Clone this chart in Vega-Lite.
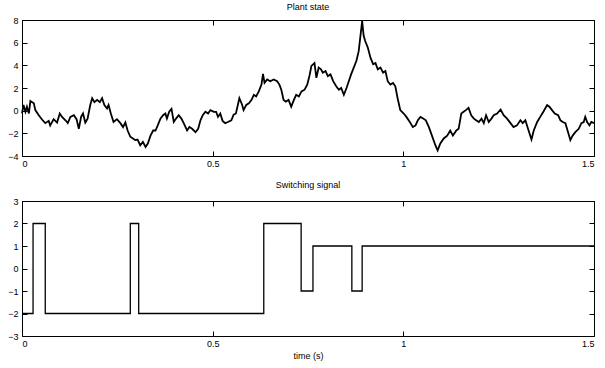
{
  "$schema": "https://vega.github.io/schema/vega-lite/v6.json",
  "background": "white",
  "padding": {"left": 7, "top": 2, "right": 8, "bottom": 5},
  "spacing": 45,
  "bounds": "flush",
  "config": {
    "view": {"stroke": "black", "strokeWidth": 1},
    "font": "Liberation Sans",
    "axis": {"grid": false, "domain": false, "tickColor": "black", "tickSize": -5, "labelColor": "black", "labelFontSize": 9, "titleFontSize": 9, "titleFontWeight": "normal", "titleColor": "black", "titlePadding": 3},
    "axisLeft": {"labelPadding": 9},
    "axisBottom": {"labelPadding": 8},
    "title": {"fontSize": 9, "fontWeight": "normal", "color": "black"}
  },
  "vconcat": [
    {
      "width": 572,
      "height": 136,
      "title": {"text": "Plant state", "offset": 4},
      "data": {"values": [
        {"t": 0, "v": -0.24}, {"t": 0.004, "v": 0.5}, {"t": 0.009, "v": -0.1}, {"t": 0.013, "v": 0.35}, {"t": 0.018, "v": -0.25},
        {"t": 0.022, "v": 0.85}, {"t": 0.031, "v": 0.65}, {"t": 0.035, "v": 0.05}, {"t": 0.044, "v": -0.4}, {"t": 0.053, "v": -0.8},
        {"t": 0.061, "v": -1.1}, {"t": 0.07, "v": -0.9}, {"t": 0.074, "v": -1.3}, {"t": 0.083, "v": -0.75}, {"t": 0.092, "v": -1.05},
        {"t": 0.099, "v": -0.25}, {"t": 0.105, "v": -0.55}, {"t": 0.114, "v": -0.85}, {"t": 0.12, "v": -1.1}, {"t": 0.127, "v": -0.55},
        {"t": 0.136, "v": -0.4}, {"t": 0.143, "v": -0.75}, {"t": 0.149, "v": -1.6}, {"t": 0.155, "v": -0.55}, {"t": 0.16, "v": -0.25},
        {"t": 0.166, "v": -1.05}, {"t": 0.172, "v": -0.7}, {"t": 0.179, "v": 0.5}, {"t": 0.184, "v": 1.1}, {"t": 0.19, "v": 0.75},
        {"t": 0.197, "v": 0.95}, {"t": 0.204, "v": 0.75}, {"t": 0.21, "v": 1.1}, {"t": 0.216, "v": 0.5}, {"t": 0.223, "v": 0.2},
        {"t": 0.227, "v": 0.5}, {"t": 0.233, "v": -0.25}, {"t": 0.24, "v": -1.0}, {"t": 0.249, "v": -0.75}, {"t": 0.258, "v": -1.1},
        {"t": 0.265, "v": -1.45}, {"t": 0.271, "v": -1.05}, {"t": 0.277, "v": -1.75}, {"t": 0.284, "v": -2.3}, {"t": 0.291, "v": -2.45},
        {"t": 0.297, "v": -2.6}, {"t": 0.303, "v": -2.55}, {"t": 0.31, "v": -3.05}, {"t": 0.317, "v": -2.75}, {"t": 0.324, "v": -3.2},
        {"t": 0.33, "v": -2.9}, {"t": 0.337, "v": -2.2}, {"t": 0.344, "v": -1.75}, {"t": 0.35, "v": -1.75}, {"t": 0.356, "v": -1.3},
        {"t": 0.363, "v": -0.7}, {"t": 0.37, "v": -0.4}, {"t": 0.376, "v": -0.25}, {"t": 0.38, "v": -0.7}, {"t": 0.386, "v": -0.1},
        {"t": 0.392, "v": 0.15}, {"t": 0.398, "v": -1.0}, {"t": 0.404, "v": -0.7}, {"t": 0.411, "v": -0.4}, {"t": 0.418, "v": -0.7},
        {"t": 0.424, "v": -1.1}, {"t": 0.433, "v": -1.75}, {"t": 0.439, "v": -1.45}, {"t": 0.446, "v": -1.6}, {"t": 0.455, "v": -1.9},
        {"t": 0.462, "v": -1.6}, {"t": 0.468, "v": -0.85}, {"t": 0.474, "v": -0.4}, {"t": 0.481, "v": -0.1}, {"t": 0.488, "v": -0.25},
        {"t": 0.494, "v": 0.05}, {"t": 0.503, "v": -0.1}, {"t": 0.509, "v": -0.1}, {"t": 0.514, "v": -0.55}, {"t": 0.52, "v": -0.25},
        {"t": 0.526, "v": -0.9}, {"t": 0.533, "v": -1.1}, {"t": 0.54, "v": -1.0}, {"t": 0.549, "v": -0.85}, {"t": 0.555, "v": -0.35},
        {"t": 0.561, "v": -0.25}, {"t": 0.57, "v": 1.1}, {"t": 0.577, "v": 0.55}, {"t": 0.581, "v": 0.05}, {"t": 0.588, "v": 0.5},
        {"t": 0.595, "v": 0.65}, {"t": 0.602, "v": 0.95}, {"t": 0.608, "v": 1.4}, {"t": 0.614, "v": 1.25}, {"t": 0.621, "v": 1.7},
        {"t": 0.628, "v": 2.3}, {"t": 0.632, "v": 3.25}, {"t": 0.636, "v": 2.45}, {"t": 0.643, "v": 2.75}, {"t": 0.651, "v": 2.6},
        {"t": 0.66, "v": 2.75}, {"t": 0.669, "v": 2.6}, {"t": 0.675, "v": 2.3}, {"t": 0.68, "v": 1.85}, {"t": 0.686, "v": 0.95},
        {"t": 0.692, "v": 0.8}, {"t": 0.699, "v": 0.95}, {"t": 0.706, "v": 0.35}, {"t": 0.713, "v": 0.95}, {"t": 0.719, "v": 1.4},
        {"t": 0.726, "v": 1.25}, {"t": 0.733, "v": 1.7}, {"t": 0.741, "v": 1.85}, {"t": 0.748, "v": 2.3}, {"t": 0.754, "v": 3.1},
        {"t": 0.759, "v": 3.95}, {"t": 0.767, "v": 4.2}, {"t": 0.772, "v": 2.9}, {"t": 0.778, "v": 3.8}, {"t": 0.784, "v": 3.65},
        {"t": 0.789, "v": 3.35}, {"t": 0.796, "v": 3.5}, {"t": 0.802, "v": 3.05}, {"t": 0.809, "v": 3.2}, {"t": 0.816, "v": 2.6},
        {"t": 0.824, "v": 2.15}, {"t": 0.831, "v": 1.85}, {"t": 0.837, "v": 2.0}, {"t": 0.844, "v": 1.4}, {"t": 0.851, "v": 2.0},
        {"t": 0.857, "v": 2.6}, {"t": 0.863, "v": 3.2}, {"t": 0.87, "v": 3.8}, {"t": 0.877, "v": 4.4}, {"t": 0.883, "v": 5.25},
        {"t": 0.887, "v": 6.45}, {"t": 0.892, "v": 7.9}, {"t": 0.896, "v": 6.6}, {"t": 0.9, "v": 6.15}, {"t": 0.907, "v": 5.55},
        {"t": 0.914, "v": 4.65}, {"t": 0.921, "v": 4.1}, {"t": 0.927, "v": 4.2}, {"t": 0.933, "v": 3.65}, {"t": 0.94, "v": 3.8},
        {"t": 0.947, "v": 3.35}, {"t": 0.953, "v": 3.5}, {"t": 0.959, "v": 2.6}, {"t": 0.966, "v": 2.3}, {"t": 0.973, "v": 2.45},
        {"t": 0.979, "v": 2.15}, {"t": 0.985, "v": 1.1}, {"t": 0.992, "v": 0.05}, {"t": 1.001, "v": -0.25}, {"t": 1.008, "v": -0.55},
        {"t": 1.017, "v": -1.0}, {"t": 1.025, "v": -1.45}, {"t": 1.032, "v": -1.3}, {"t": 1.038, "v": -0.85}, {"t": 1.045, "v": -0.55},
        {"t": 1.052, "v": -0.7}, {"t": 1.059, "v": -0.85}, {"t": 1.067, "v": -1.45}, {"t": 1.075, "v": -2.2}, {"t": 1.084, "v": -3.05},
        {"t": 1.09, "v": -3.5}, {"t": 1.097, "v": -2.9}, {"t": 1.106, "v": -2.45}, {"t": 1.115, "v": -2.2}, {"t": 1.123, "v": -1.75},
        {"t": 1.13, "v": -2.2}, {"t": 1.139, "v": -1.75}, {"t": 1.145, "v": -1.6}, {"t": 1.152, "v": -0.25}, {"t": 1.158, "v": -0.1},
        {"t": 1.164, "v": 0.05}, {"t": 1.171, "v": 0.25}, {"t": 1.178, "v": -0.4}, {"t": 1.185, "v": -0.7}, {"t": 1.191, "v": -0.85},
        {"t": 1.198, "v": -1.0}, {"t": 1.205, "v": -0.7}, {"t": 1.211, "v": -1.1}, {"t": 1.217, "v": -0.4}, {"t": 1.224, "v": -1.0},
        {"t": 1.231, "v": -0.7}, {"t": 1.237, "v": -0.4}, {"t": 1.246, "v": -0.25}, {"t": 1.255, "v": 0.1}, {"t": 1.263, "v": -0.4},
        {"t": 1.272, "v": -0.7}, {"t": 1.281, "v": -1.1}, {"t": 1.289, "v": -1.45}, {"t": 1.298, "v": -1.3}, {"t": 1.307, "v": -0.85},
        {"t": 1.313, "v": -1.1}, {"t": 1.32, "v": -0.85}, {"t": 1.327, "v": -1.6}, {"t": 1.336, "v": -2.55}, {"t": 1.342, "v": -1.75},
        {"t": 1.351, "v": -1.0}, {"t": 1.359, "v": -0.55}, {"t": 1.368, "v": -0.05}, {"t": 1.377, "v": 0.5}, {"t": 1.383, "v": 0.35},
        {"t": 1.39, "v": 0.05}, {"t": 1.397, "v": -0.25}, {"t": 1.406, "v": -0.4}, {"t": 1.412, "v": -0.85}, {"t": 1.418, "v": -1.0},
        {"t": 1.425, "v": -1.1}, {"t": 1.432, "v": -1.9}, {"t": 1.438, "v": -2.6}, {"t": 1.444, "v": -2.2}, {"t": 1.451, "v": -1.9},
        {"t": 1.46, "v": -1.6}, {"t": 1.467, "v": -1.1}, {"t": 1.473, "v": -1.0}, {"t": 1.477, "v": -0.55}, {"t": 1.482, "v": -1.0},
        {"t": 1.488, "v": -1.3}, {"t": 1.493, "v": -1.0}, {"t": 1.5, "v": -1.1}
      ]},
      "layer": [
        {
          "mark": {"type": "line", "color": "black", "strokeWidth": 1.8},
          "encoding": {
            "x": {"field": "t", "type": "quantitative", "scale": {"domain": [0, 1.5]}, "axis": {"values": [0, 0.5, 1, 1.5], "labelExpr": "'' + datum.value", "title": null}},
            "y": {"field": "v", "type": "quantitative", "scale": {"domain": [-4, 8]}, "axis": {"values": [-4, -2, 0, 2, 4, 6, 8], "format": "d", "title": null}}
          }
        },
        {
          "mark": {"type": "line", "strokeOpacity": 0},
          "encoding": {
            "x": {"field": "t", "type": "quantitative", "scale": {"domain": [0, 1.5]}, "axis": {"orient": "top", "values": [0, 0.5, 1, 1.5], "labels": false, "title": null}},
            "y": {"field": "v", "type": "quantitative", "scale": {"domain": [-4, 8]}, "axis": {"orient": "right", "values": [-4, -2, 0, 2, 4, 6, 8], "labels": false, "title": null}}
          }
        }
      ],
      "resolve": {"axis": {"x": "independent", "y": "independent"}}
    },
    {
      "width": 572,
      "height": 135,
      "title": {"text": "Switching signal", "offset": 7},
      "data": {"values": [
        {"t": 0, "s": -2}, {"t": 0.029, "s": 2}, {"t": 0.061, "s": -2}, {"t": 0.284, "s": 2}, {"t": 0.306, "s": -2},
        {"t": 0.634, "s": 2}, {"t": 0.732, "s": -1}, {"t": 0.763, "s": 1}, {"t": 0.865, "s": -1}, {"t": 0.892, "s": 1},
        {"t": 1.5, "s": 1}
      ]},
      "layer": [
        {
          "mark": {"type": "line", "color": "black", "strokeWidth": 1.3, "interpolate": "step-after"},
          "encoding": {
            "x": {"field": "t", "type": "quantitative", "scale": {"domain": [0, 1.5]}, "axis": {"values": [0, 0.5, 1, 1.5], "labelExpr": "'' + datum.value", "title": "time (s)"}},
            "y": {"field": "s", "type": "quantitative", "scale": {"domain": [-3, 3]}, "axis": {"values": [-3, -2, -1, 0, 1, 2, 3], "format": "d", "title": null}}
          }
        },
        {
          "mark": {"type": "line", "strokeOpacity": 0},
          "encoding": {
            "x": {"field": "t", "type": "quantitative", "scale": {"domain": [0, 1.5]}, "axis": {"orient": "top", "values": [0, 0.5, 1, 1.5], "labels": false, "title": null}},
            "y": {"field": "s", "type": "quantitative", "scale": {"domain": [-3, 3]}, "axis": {"orient": "right", "values": [-3, -2, -1, 0, 1, 2, 3], "labels": false, "title": null}}
          }
        }
      ],
      "resolve": {"axis": {"x": "independent", "y": "independent"}}
    }
  ]
}
